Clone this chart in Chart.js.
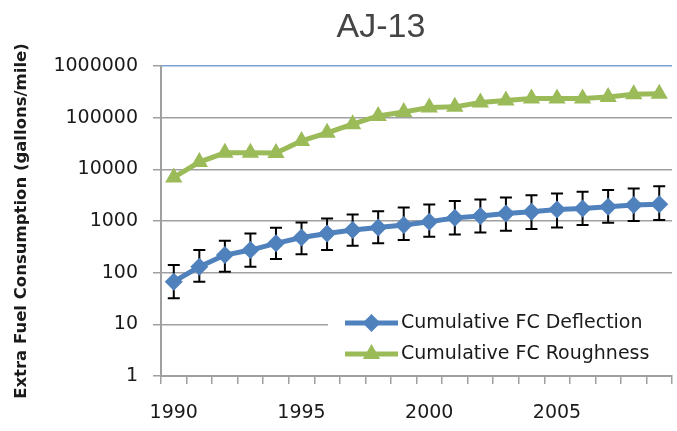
<!DOCTYPE html>
<html>
<head>
<meta charset="utf-8">
<script src="https://cdn.jsdelivr.net/npm/chart.js@4.4.1/dist/chart.umd.min.js"></script>
<style>
  html, body { margin: 0; padding: 0; overflow: hidden; background: #fff; }
  #wrap { width: 682px; height: 431px; }
</style>
</head>
<body>
<div id="wrap"><canvas id="fcChart" width="682" height="431"></canvas></div>
<script>
// --- Chart data ---
const chartTitle = 'AJ-13';
const yTitle = 'Extra Fuel Consumption (gallons/mile)';
const years = ['1990', '1991', '1992', '1993', '1994', '1995', '1996', '1997', '1998', '1999',
    '2000', '2001', '2002', '2003', '2004', '2005', '2006', '2007', '2008', '2009'];
const shownYears = ['1990', '1995', '2000', '2005'];
const yTicks = [1, 10, 100, 1000, 10000, 100000, 1000000];

const fcDeflection = [67, 130, 219, 274, 369, 480, 575, 667, 752, 833,
    965, 1150, 1245, 1400, 1510, 1670, 1750, 1880, 2030, 2120];
const deflectionHigh = [140, 274, 414, 575, 740, 935, 1120, 1340, 1550, 1820,
    2090, 2430, 2620, 2860, 3160, 3420, 3670, 3970, 4280, 4730];
const deflectionLow = [32, 67, 104, 130, 183, 226, 274, 332, 369, 427,
    495, 550, 600, 647, 697, 752, 833, 923, 995, 1040];
const fcRoughness = [6970, 13800, 20900, 20900, 20600, 35500, 50800, 74800, 108000, 129000,
    157000, 162000, 197000, 215000, 236000, 236000, 236000, 252000, 285000, 290000];

const gridGray = '#a0a0a0';
const textColor = '#1a1a1a';

Chart.defaults.font.family = '"DejaVu Sans", Verdana, sans-serif';

// error bars under the deflection series
const errorBars = {
    id: 'errorBars',
    beforeDatasetDraw(chart, args) {
        if (args.index !== 0) return;
        const ctx = chart.ctx;
        const y = chart.scales.y;
        const meta = chart.getDatasetMeta(0);
        ctx.save();
        ctx.strokeStyle = '#000';
        ctx.lineWidth = 2;
        meta.data.forEach((pt, i) => {
            const top = y.getPixelForValue(deflectionHigh[i]);
            const bot = y.getPixelForValue(deflectionLow[i]);
            ctx.beginPath();
            ctx.moveTo(pt.x, top); ctx.lineTo(pt.x, bot);
            ctx.moveTo(pt.x - 6, top); ctx.lineTo(pt.x + 6, top);
            ctx.moveTo(pt.x - 6, bot); ctx.lineTo(pt.x + 6, bot);
            ctx.stroke();
        });
        ctx.restore();
    }
};

// title + legend inside the plot
const overlay = {
    id: 'overlay',
    afterDraw(chart) {
        const ctx = chart.ctx;
        ctx.save();
        ctx.font = '34px "Liberation Sans", Arial, sans-serif';
        ctx.fillStyle = '#454545';
        ctx.textAlign = 'center';
        ctx.textBaseline = 'alphabetic';
        ctx.fillText(chartTitle, 381, 37);

        ctx.fillStyle = '#fff';
        ctx.fillRect(328, 306, chart.width - 328, 64);

        ctx.font = '19px "DejaVu Sans", Verdana, sans-serif';
        ctx.textAlign = 'left';
        ctx.textBaseline = 'middle';
        chart.data.datasets.forEach((ds, i) => {
            const cy = 323 + i * 31;
            ctx.strokeStyle = ds.borderColor;
            ctx.lineWidth = ds.borderWidth;
            ctx.beginPath();
            ctx.moveTo(345, cy);
            ctx.lineTo(398, cy);
            ctx.stroke();
            ctx.fillStyle = ds.backgroundColor;
            Chart.helpers.drawPoint(ctx, {
                pointStyle: ds.pointStyle, radius: ds.pointRadius, rotation: 0, borderWidth: 0
            }, 371.5, cy);
            ctx.fillStyle = textColor;
            ctx.fillText(ds.label, 401, cy);
        });
        ctx.restore();
    }
};

new Chart(document.getElementById('fcChart').getContext('2d'), {
    type: 'line',
    data: {
        labels: years,
        datasets: [{
            label: 'Cumulative FC Deflection',
            data: fcDeflection,
            borderColor: '#4f81bd',
            backgroundColor: '#4f81bd',
            borderWidth: 5,
            pointStyle: 'rectRot',
            pointRadius: 9,
            pointBorderWidth: 0,
            tension: 0
        }, {
            label: 'Cumulative FC Roughness',
            data: fcRoughness,
            borderColor: '#9bbb59',
            backgroundColor: '#9bbb59',
            borderWidth: 5,
            pointStyle: 'triangle',
            pointRadius: 10,
            pointBorderWidth: 0,
            tension: 0
        }]
    },
    options: {
        responsive: false,
        animation: false,
        layout: { padding: { top: 66, right: 1, left: 0, bottom: 0 } },
        plugins: {
            legend: { display: false },
            tooltip: { enabled: false }
        },
        scales: {
            x: {
                type: 'category',
                offset: true,
                grid: {
                    drawOnChartArea: false,
                    drawTicks: true,
                    tickLength: 8,
                    color: gridGray,
                    lineWidth: 1.5,
                    offset: true
                },
                border: { color: gridGray, width: 2 },
                ticks: {
                    autoSkip: false,
                    maxRotation: 0,
                    padding: 18,
                    color: textColor,
                    font: { size: 19 },
                    callback: function (v, i) {
                        return shownYears.includes(years[i]) ? years[i] : '';
                    }
                },
                afterFit: function (s) { s.height = 55; }
            },
            y: {
                type: 'logarithmic',
                min: 1,
                max: 1000000,
                afterBuildTicks: function (s) {
                    s.ticks = yTicks.map(v => ({ value: v }));
                },
                ticks: {
                    padding: 15,
                    color: textColor,
                    font: { size: 19 },
                    callback: v => String(v)
                },
                grid: {
                    color: c => (c.tick && c.tick.value === 1000000) ? '#7ba1d6' : gridGray,
                    tickColor: gridGray,
                    lineWidth: 1.5,
                    tickLength: 8
                },
                border: { color: gridGray, width: 2 },
                title: {
                    display: true,
                    text: yTitle,
                    color: textColor,
                    font: { size: 16.5, weight: 'bold' },
                    padding: { top: 12, bottom: 0 }
                },
                afterFit: function (s) { s.width = 161; }
            }
        }
    },
    plugins: [errorBars, overlay]
});
</script>
</body>
</html>
